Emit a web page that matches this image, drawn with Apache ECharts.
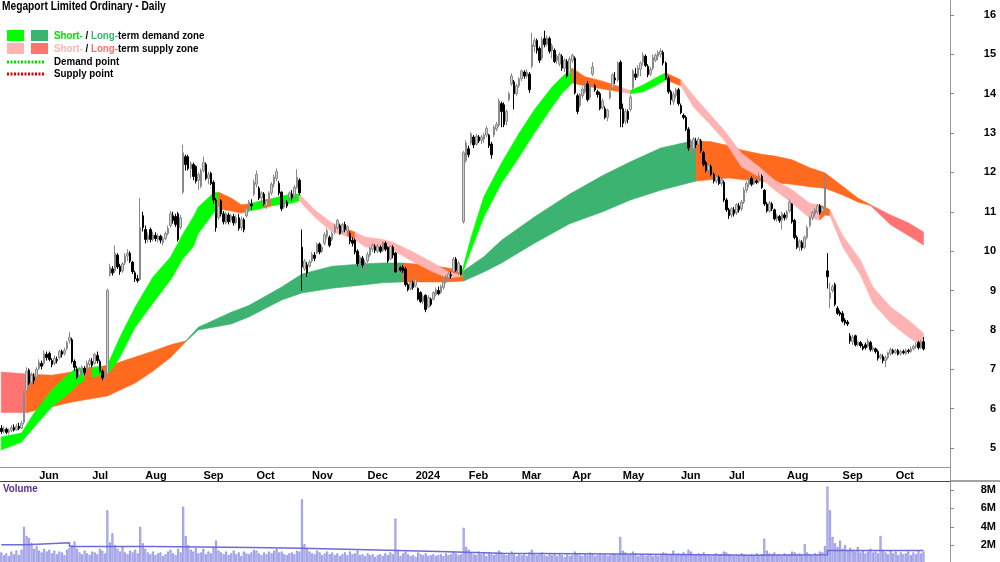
<!DOCTYPE html>
<html>
<head>
<meta charset="utf-8">
<title>Megaport Limited Ordinary - Daily</title>
<script src="https://cdn.jsdelivr.net/npm/echarts@6.0.0/dist/echarts.min.js"></script>
<style>
html, body { margin: 0; padding: 0; background: #fff; }
#main { width: 1000px; height: 562px; }
</style>
</head>
<body>
<div id="main"></div>
<script>
// daily bars: [open, close, low, high]
var ohlc = [
  [5.50,5.42,5.36,5.58],[5.42,5.48,5.38,5.55],[5.48,5.40,5.35,5.52],[5.40,5.45,5.34,5.50],[5.45,5.52,5.40,5.58],
  [5.52,5.46,5.42,5.60],[5.46,5.55,5.44,5.62],[5.55,5.50,5.45,5.64],[5.50,5.62,5.48,5.70],[5.65,6.40,5.60,6.45],
  [6.45,6.95,6.40,7.05],[6.98,6.65,6.60,7.02],[6.65,6.85,6.55,6.92],[6.80,6.72,6.62,6.90],[6.80,7.00,6.75,7.05],
  [7.02,7.18,6.98,7.25],[7.15,7.08,7.00,7.22],[7.15,7.40,7.10,7.48],[7.38,7.30,7.22,7.45],[7.40,7.25,7.20,7.45],
  [7.22,7.12,7.05,7.28],[7.15,7.28,7.10,7.35],[7.25,7.22,7.15,7.32],[7.30,7.45,7.25,7.50],[7.45,7.38,7.30,7.50],
  [7.40,7.48,7.35,7.55],[7.52,7.68,7.48,7.72],[7.72,7.82,7.65,7.95],[7.75,7.20,7.15,7.80],[7.20,7.05,6.95,7.25],
  [7.00,6.80,6.75,7.08],[6.85,6.98,6.80,7.05],[6.95,7.05,6.88,7.10],[7.02,6.92,6.85,7.08],[6.98,7.15,6.95,7.22],
  [7.12,7.22,7.05,7.28],[7.20,7.10,7.05,7.28],[7.15,7.38,7.12,7.42],[7.35,7.22,7.15,7.45],[7.20,6.95,6.90,7.25],
  [6.95,6.78,6.72,7.00],[6.80,6.85,6.72,6.92],[6.88,9.00,6.85,9.05],[9.40,9.60,9.35,9.68],[9.55,9.45,9.38,9.62],
  [9.50,9.95,9.45,10.15],[9.90,9.60,9.55,9.95],[9.62,9.48,9.40,9.68],[9.50,9.68,9.45,9.72],[9.70,9.88,9.65,9.95],
  [9.88,9.95,9.75,10.05],[9.95,9.75,9.70,10.00],[9.72,9.48,9.42,9.75],[9.45,9.30,9.22,9.50],[9.30,9.25,9.20,9.40],
  [9.28,10.60,9.25,11.35],[10.90,10.60,10.50,11.00],[10.55,10.30,10.20,10.65],[10.30,10.40,10.22,10.48],[10.55,10.30,10.22,10.60],
  [10.30,10.42,10.25,10.50],[10.40,10.32,10.25,10.48],[10.30,10.38,10.22,10.45],[10.38,10.28,10.20,10.42],[10.22,10.32,10.15,10.38],
  [10.32,10.45,10.28,10.50],[10.45,10.58,10.40,10.65],[10.65,10.95,10.60,11.02],[10.90,10.78,10.70,11.00],[10.88,10.68,10.62,10.95],
  [10.95,10.30,10.25,11.00],[10.60,10.85,10.55,10.92],[11.50,12.50,11.45,12.70],[12.40,12.20,12.05,12.45],[12.40,12.10,12.05,12.45],
  [12.10,12.22,11.85,12.28],[12.20,11.90,11.80,12.25],[12.15,11.78,11.72,12.18],[11.80,11.95,11.55,12.00],
  [11.65,12.05,11.60,12.10],[12.05,12.25,12.00,12.40],[12.20,11.85,11.80,12.25],[11.85,11.95,11.70,12.02],[11.98,11.72,11.68,12.02],
  [11.75,11.30,11.20,11.80],[11.30,10.60,10.50,11.35],[10.85,11.15,10.80,11.22],[11.28,10.95,10.88,11.32],[10.95,10.75,10.68,11.02],
  [10.72,10.95,10.68,11.00],[10.92,10.75,10.68,10.98],[10.78,10.90,10.72,10.95],[10.88,10.72,10.65,10.95],[10.72,10.85,10.68,10.92],
  [10.85,10.58,10.52,10.95],[10.60,10.80,10.52,10.88],[10.80,10.55,10.48,10.85],[10.90,11.08,10.85,11.12],[11.05,11.25,11.00,11.30],
  [11.20,11.15,11.05,11.32],[11.45,11.75,11.40,11.82],[11.70,11.95,11.62,12.05],[11.60,11.35,11.30,11.65],[11.35,11.48,11.15,11.52],
  [11.45,11.20,11.15,11.50],[11.15,11.28,11.08,11.32],[11.28,11.48,11.22,11.52],[11.48,11.70,11.42,11.75],[11.70,11.88,11.62,11.95],
  [11.85,12.02,11.78,12.10],[11.72,11.48,11.42,11.78],[11.50,11.08,11.02,11.52],[11.12,11.28,11.08,11.32],[11.25,11.15,11.10,11.30],
  [11.35,11.48,11.30,11.52],[11.45,11.35,11.28,11.55],[11.40,11.62,11.32,11.68],[11.62,11.88,11.58,12.08],[11.80,11.48,11.42,11.85],
  [10.10,9.60,9.00,10.55],[9.55,9.75,9.50,9.80],[9.65,9.45,9.35,9.72],[9.62,9.72,9.58,9.78],[9.75,9.92,9.70,9.98],
  [9.90,9.82,9.75,9.98],[9.95,10.18,9.92,10.22],[10.18,9.98,9.92,10.22],[10.00,10.10,9.95,10.15],[10.20,10.42,10.15,10.48],
  [10.38,10.52,10.32,10.58],[10.35,10.15,10.10,10.40],[10.30,10.45,10.25,10.50],[10.48,10.62,10.42,10.70],[10.60,10.78,10.55,10.82],
  [10.65,10.45,10.42,10.70],[10.50,10.68,10.45,10.72],[10.68,10.55,10.48,10.75],[10.52,10.62,10.45,10.66],[10.45,10.25,10.18,10.50],
  [10.28,10.20,10.12,10.35],[10.28,9.98,9.92,10.32],[10.00,9.68,9.62,10.05],[9.68,9.85,9.60,9.90],[9.82,9.65,9.58,9.88],
  [9.55,9.72,9.48,9.78],[9.75,9.92,9.70,9.98],[9.90,10.08,9.85,10.12],[10.05,10.15,9.98,10.20],[10.12,10.02,9.95,10.18],
  [10.00,10.12,9.95,10.18],[10.10,10.00,9.95,10.15],[10.02,10.22,9.98,10.25],[10.20,10.05,10.00,10.25],[10.10,9.75,9.70,10.12],
  [9.80,10.12,9.78,10.15],[10.10,9.90,9.82,10.15],[9.95,9.48,9.45,9.98],[9.50,9.60,9.45,9.62],[9.58,9.52,9.48,9.62],
  [9.60,9.50,9.45,9.65],[9.55,9.15,9.10,9.60],[9.15,9.02,8.98,9.20],[9.05,9.20,9.00,9.25],[9.20,9.08,9.02,9.25],
  [9.12,9.28,9.08,9.32],[9.05,8.78,8.75,9.08],[8.95,8.72,8.68,8.98],[8.72,8.85,8.65,8.90],[8.88,8.52,8.45,8.90],
  [8.58,8.82,8.55,8.88],[8.78,8.65,8.60,8.82],[8.78,8.95,8.75,8.98],[8.90,9.02,8.85,9.08],
  [9.00,8.92,8.88,9.10],[8.95,9.10,8.92,9.15],[9.08,9.22,9.02,9.28],[9.22,9.35,9.18,9.40],[9.32,9.42,9.28,9.48],
  [9.40,9.38,9.30,9.48],[9.48,9.80,9.45,9.85],[9.80,9.52,9.48,9.85],[9.45,9.70,9.40,9.75],[9.62,9.42,9.38,9.65],
  [10.75,12.50,10.70,12.55],[12.30,12.75,12.25,12.82],[12.60,12.45,12.38,12.68],[12.75,12.98,12.70,13.02],[12.90,12.70,12.62,12.95],
  [12.72,12.92,12.68,12.98],[12.90,12.80,12.75,12.95],[12.82,12.90,12.72,12.95],[12.85,12.95,12.75,13.00],[12.95,13.12,12.90,13.18],
  [12.95,12.68,12.62,12.98],[12.72,12.45,12.35,12.78],[12.95,13.15,12.90,13.20],[13.10,13.22,13.05,13.28],[13.20,13.82,13.15,13.88],
  [13.75,13.55,13.15,13.80],[13.72,13.22,13.15,13.78],[13.30,13.55,13.20,13.60],[13.85,14.00,13.80,14.05],[14.25,14.45,14.20,14.52],
  [14.30,14.00,13.60,14.35],[14.00,14.20,13.95,14.25],[14.20,14.38,14.15,14.42],[14.38,14.58,14.32,14.62],[14.55,14.45,14.38,14.60],
  [14.45,14.55,14.40,14.62],[14.50,14.10,14.02,14.55],[14.70,15.25,14.65,15.55],[15.20,15.35,15.05,15.42],[15.35,15.10,15.02,15.40],
  [15.15,14.85,14.78,15.20],[14.90,15.38,14.85,15.45],[15.40,15.25,15.18,15.60],[15.25,15.42,15.20,15.48],[15.40,15.08,15.02,15.45],
  [15.10,15.22,14.90,15.28],[15.10,14.82,14.78,15.15],[14.85,14.95,14.75,15.00],[14.75,15.00,14.70,15.05],[14.95,14.65,14.58,15.00],
  [14.65,14.85,14.55,14.90],[14.82,14.45,14.40,14.88],[14.50,14.88,14.45,14.95],[14.85,14.98,14.78,15.02],[14.90,14.02,13.98,14.95],
  [13.95,13.55,13.48,14.00],[13.70,13.98,13.65,14.02],[13.95,14.12,13.88,14.18],[14.05,14.25,14.00,14.30],[14.25,13.85,13.80,14.32],
  [13.90,14.18,13.85,14.22],[14.50,14.68,14.45,14.80],[14.20,14.10,14.05,14.25],[14.05,13.98,13.90,14.10],[14.00,13.62,13.58,14.05],
  [13.65,13.82,13.60,13.88],[13.62,13.40,13.35,13.68],[13.40,13.58,13.30,13.62],[13.90,14.05,13.85,14.10],[14.15,14.48,14.10,14.52],
  [14.40,14.35,14.25,14.55],[14.35,14.78,14.30,14.82],[14.80,13.62,13.15,14.85],[13.62,13.25,13.15,13.75],[13.30,13.55,13.22,13.62],
  [13.55,13.35,13.25,13.60],[13.60,13.92,13.55,13.98],[14.15,14.58,14.10,14.62],[14.50,14.42,14.35,14.65],[14.45,14.65,14.40,14.72],
  [14.62,14.78,14.45,14.82],[14.80,14.98,14.72,15.05],[14.95,14.72,14.68,15.00],[14.70,14.48,14.42,14.75],[14.50,14.62,14.45,14.68],
  [14.65,14.92,14.60,15.00],[14.85,14.98,14.80,15.02],[14.95,15.05,14.85,15.10],[15.00,15.08,14.92,15.15],
  [15.05,14.78,14.72,15.10],[14.78,14.40,14.35,14.82],[14.40,14.05,14.00,14.45],[14.05,13.85,13.72,14.10],[13.80,13.98,13.72,14.05],
  [13.95,14.10,13.88,14.15],[14.10,13.75,13.70,14.15],[13.70,13.52,13.48,13.75],[13.45,13.40,13.35,13.50],[13.40,13.10,13.05,13.45],
  [13.10,12.62,12.55,13.15],[12.55,12.80,12.50,12.85],[12.60,12.85,12.35,12.90],[12.80,12.70,12.62,12.88],[12.72,12.85,12.65,12.90],
  [12.80,12.55,12.50,12.85],[12.50,12.20,12.15,12.55],[12.25,12.05,12.00,12.30],[12.05,12.18,11.95,12.22],[12.15,11.95,11.90,12.20],
  [11.95,11.78,11.72,12.00],[11.78,11.90,11.72,11.95],[11.88,11.72,11.68,11.92],[11.72,11.82,11.65,11.88],[11.75,11.30,11.25,11.80],
  [11.30,11.05,11.00,11.35],[11.05,10.90,10.82,11.10],[10.92,11.08,10.85,11.12],[11.05,10.95,10.88,11.12],[10.98,11.18,10.92,11.22],
  [11.15,11.05,10.98,11.22],[11.08,11.25,11.02,11.30],[11.25,11.55,11.20,11.62],[11.55,11.72,11.48,11.78],[11.70,11.85,11.62,11.90],
  [11.85,11.70,11.65,11.90],[11.72,11.80,11.68,11.85],[11.78,11.75,11.70,11.82],[11.78,11.92,11.72,12.00],[11.90,11.62,11.58,11.95],
  [11.55,11.20,11.15,11.58],[11.20,11.02,10.98,11.25],[11.02,11.22,10.98,11.28],[11.20,11.08,11.02,11.25],[11.05,10.82,10.78,11.08],
  [10.82,10.90,10.75,10.95],[10.88,10.78,10.72,10.92],[10.80,10.95,10.55,11.00],[10.92,10.85,10.78,10.98],[10.85,11.00,10.80,11.05],
  [11.02,11.25,10.98,11.32],[11.20,10.75,10.70,11.22],[10.78,10.35,10.30,10.82],[10.35,10.10,10.05,10.40],[10.10,10.25,10.00,10.30],
  [10.22,10.08,10.02,10.28],[10.10,10.35,10.05,10.40],[10.35,10.60,10.30,10.65],[10.65,10.85,10.60,10.90],[10.85,10.98,10.78,11.02],
  [10.95,11.05,10.88,11.10],[11.00,11.15,10.95,11.20],[11.15,10.98,10.92,11.20],[11.00,11.10,10.95,11.15],[11.10,11.75,11.05,11.98],
  [9.50,9.35,9.05,9.95],[8.80,8.95,8.55,9.20],[9.00,9.10,8.95,9.15],[9.15,8.65,8.60,9.20],[8.55,8.42,8.38,8.60],
  [8.45,8.40,8.35,8.50],[8.42,8.22,8.18,8.48],[8.25,8.18,8.12,8.30],[8.20,8.15,8.10,8.25],[7.85,7.72,7.65,7.92],
  [7.70,7.82,7.62,7.88],[7.85,7.62,7.58,7.88],[7.62,7.68,7.58,7.72],[7.68,7.60,7.55,7.72],[7.58,7.52,7.48,7.65],
  [7.62,7.55,7.50,7.68],[7.58,7.72,7.55,7.78],[7.68,7.50,7.45,7.72],[7.50,7.55,7.45,7.60],
  [7.52,7.45,7.40,7.55],[7.45,7.28,7.22,7.50],[7.30,7.35,7.25,7.40],[7.32,7.22,7.15,7.38],[7.22,7.30,7.05,7.35],
  [7.30,7.42,7.25,7.45],[7.40,7.50,7.35,7.55],[7.48,7.42,7.38,7.52],[7.42,7.48,7.38,7.52],[7.48,7.38,7.35,7.52],
  [7.40,7.45,7.35,7.50],[7.45,7.42,7.38,7.50],[7.40,7.48,7.36,7.52],[7.48,7.45,7.40,7.52],[7.45,7.52,7.42,7.58],
  [7.52,7.58,7.48,7.62],[7.58,7.62,7.52,7.68],[7.68,7.55,7.50,7.72],[7.55,7.68,7.52,7.75],[7.70,7.52,7.48,7.82]
];

// volume in millions
var volume = [
  1.2,0.9,1.1,0.8,1.3,1.0,1.4,0.9,1.5,4.0, 3.0,2.8,2.2,1.6,1.9,1.4,1.2,1.6,1.3,1.5,
  1.1,1.4,1.0,1.3,1.2,0.9,1.5,1.7,2.0,2.4, 1.6,1.2,1.0,1.4,1.1,0.9,1.3,1.2,1.0,1.6,
  1.4,1.1,5.8,2.3,3.3,2.0,1.6,1.3,1.8,1.2, 1.0,1.4,1.2,1.5,1.1,4.0,2.2,1.6,1.2,1.0,
  1.3,0.9,1.1,1.2,0.8,1.0,1.3,1.5,1.1,0.9, 1.6,1.2,6.2,3.0,2.0,1.5,1.3,1.7,1.1,
  1.2,1.6,1.0,1.3,1.1,1.8,2.5,1.4,1.2,1.0, 1.3,0.9,1.1,1.4,1.0,1.2,0.8,1.3,1.1,1.0,
  1.2,1.5,1.4,1.1,0.9,1.2,1.0,1.3,1.1,1.4, 1.6,1.2,1.3,1.0,0.9,1.1,1.2,1.0,1.4,1.3,
  7.0,2.1,1.6,1.3,1.1,1.0,1.4,1.2,0.9,1.1, 1.3,1.0,1.2,0.9,1.1,0.8,1.0,1.2,0.9,1.3,
  1.0,1.1,1.4,0.9,1.0,0.8,1.1,0.9,1.0,0.7, 0.9,1.0,0.8,1.1,0.9,1.2,1.0,4.9,1.5,0.8,
  1.1,1.3,1.0,0.8,0.9,0.7,1.2,1.0,0.9,1.1, 0.8,0.9,1.0,0.8,0.9,1.0,0.8,1.1,0.9,
  1.0,1.3,1.1,0.9,1.0,3.9,1.8,1.5,1.2,1.0, 0.9,1.3,1.0,1.1,0.8,1.2,1.0,0.9,1.1,1.4,
  1.2,1.0,0.9,1.1,1.3,1.0,0.8,1.1,0.9,1.0, 0.8,1.2,1.5,1.1,0.9,1.0,1.2,0.9,0.8,1.0,
  0.9,1.1,0.8,1.0,0.9,0.7,1.0,0.8,0.9,1.3, 1.1,0.9,0.8,1.0,0.9,1.2,1.0,0.8,0.9,1.1,
  0.9,1.0,0.8,0.9,1.1,1.0,0.9,2.9,1.4,1.2, 0.9,1.0,1.3,1.1,0.8,0.9,1.0,0.8,0.9,1.0,
  0.8,1.0,0.8,0.9,1.2,1.1,1.0,0.9,1.4, 1.0,1.1,0.9,1.2,1.0,1.5,1.3,1.0,0.9,1.1,
  1.0,1.2,0.9,1.0,0.8,0.9,1.1,0.9,1.0,1.3, 1.2,1.0,0.9,0.8,1.0,0.9,1.1,1.0,0.9,0.8,
  1.0,0.9,1.1,0.9,1.0,2.7,1.4,1.1,1.0,1.2, 0.9,1.0,0.8,1.1,0.9,1.0,1.3,1.2,1.0,1.1,
  0.9,2.1,1.2,1.0,0.9,1.1,1.0,1.3,1.2,1.9, 8.4,5.8,2.9,2.2,1.8,2.5,1.6,2.0,1.4,1.7,
  1.5,1.3,1.8,1.2,1.4,1.1,1.3,1.6,1.2, 1.3,1.1,3.0,1.5,1.2,1.0,1.4,1.1,1.3,0.9,
  1.2,1.0,1.1,1.3,0.9,1.2,1.0,1.4,1.1,1.3
];

// volume average (bar index, millions), drawn as steps
var volumeAvg = [
  [0,2.05],[10,2.25],[27,1.85],[60,1.75],[99,1.65],[119,1.45],[149,1.3],[173,1.1],
  [198,1.0],[257,0.9],[297,0.95],[327,1.4],[365,1.4]
];

// zones: [bar index, upper, lower]
var longZone = [
  [0,6.93,5.90],[10,6.88,5.90],[20,6.85,6.05],[28,6.93,6.17],[40,7.06,6.30],[42,7.08,6.32],
  [53,7.31,6.65],[60,7.46,6.95],[67,7.62,7.30],[73,7.72,7.70],[78,8.07,8.00],[91,8.45,8.15],
  [98,8.62,8.33],[111,9.09,8.76],[119,9.42,8.94],[131,9.62,9.06],[144,9.68,9.15],[151,9.70,9.20],
  [159,9.70,9.22],[169,9.65,9.22],[176,9.58,9.22],[183,9.50,9.24],[191,9.86,9.47],[198,10.28,9.70],
  [211,10.87,10.20],[225,11.45,10.70],[238,11.92,11.00],[249,12.27,11.30],[261,12.62,11.55],
  [272,12.78,11.73],[275,12.80,11.78],[281,12.78,11.82],[288,12.68,11.86],[293,12.57,11.82],
  [301,12.46,11.78],[306,12.42,11.74],[313,12.32,11.70],[320,12.12,11.64],[326,11.99,11.60],
  [333,11.65,11.43],[339,11.35,11.25],[344,11.18,11.16],[352,10.92,10.67],[359,10.72,10.40],
  [365,10.49,10.16]
];
var longState = [
  [0,'supplyLong'],[10,'mixed'],[73,'demandLong'],[159,'mixed'],[183,'demandLong'],[275,'mixed'],[344,'supplyLong']
];

var shortZone = [
  [0,5.28,4.95],[8,5.38,5.15],[13,5.89,5.53],[20,6.47,6.04],[27,6.90,6.40],[30,7.03,6.60],
  [33,7.03,6.72],[36,7.05,6.80],[40,7.08,6.86],[42,7.10,6.90],[43,7.24,6.93],[47,7.82,7.31],
  [53,8.58,8.07],[60,9.34,8.68],[67,9.85,9.27],[72,10.45,9.82],[76,10.87,10.11],[78,11.12,10.45],
  [84,11.48,10.97],[86,11.50,11.08],[91,11.35,11.02],[95,11.18,10.97],[98,11.20,11.02],
  [104,11.30,11.10],[107,11.33,11.15],[111,11.40,11.20],[115,11.45,11.22],[118,11.45,11.28],
  [124,11.05,10.87],[131,10.71,10.49],[137,10.56,10.38],[140,10.48,10.30],[144,10.36,10.11],
  [151,10.30,10.05],[155,10.23,10.03],[163,9.98,9.73],[171,9.70,9.47],[177,9.47,9.32],
  [182,9.40,9.36],[186,10.36,10.03],[191,11.38,10.87],[198,12.24,11.73],[205,13.00,12.39],
  [211,13.59,13.00],[218,14.17,13.66],[222,14.43,14.02],[226,14.65,14.27],[231,14.43,14.20],
  [238,14.32,14.12],[245,14.17,14.05],[249,14.08,14.00],[254,14.22,14.05],[259,14.40,14.20],
  [263,14.53,14.35],[269,14.35,14.20],[274,13.95,13.66],[280,13.51,13.26],[286,13.08,12.83],
  [293,12.49,12.14],[300,12.14,11.89],[306,11.81,11.56],[313,11.56,11.22],[320,11.22,10.84],
  [324,11.17,10.79],[326,11.12,10.92],[328,11.05,10.90],[333,10.40,10.11],[340,9.78,9.40],
  [345,9.09,8.68],[352,8.58,8.18],[359,8.25,7.82],[365,7.92,7.57]
];
var shortState = [
  [0,'demandShort'],[33,'mixed'],[36,'demandShort'],[40,'mixed'],[42,'demandShort'],[86,'mixed'],
  [98,'demandShort'],[104,'mixed'],[107,'demandShort'],[118,'supplyShort'],[137,'mixed'],
  [140,'supplyShort'],[182,'demandShort'],[226,'mixed'],[245,'supplyShort'],[249,'demandShort'],
  [263,'mixed'],[269,'supplyShort'],[324,'mixed'],[328,'supplyShort']
];

var zoneColors = {
  demandShort: '#00ff00',
  demandLong: '#3cb371',
  supplyShort: '#ffb3b3',
  supplyLong: '#ff7373',
  mixed: '#ff6a1f'
};

var monthNames = ['Jan','Feb','Mar','Apr','May','Jun','Jul','Aug','Sep','Oct','Nov','Dec'];
var holidays = ['2023-06-12','2023-12-25','2023-12-26','2024-01-01','2024-01-26',
                '2024-03-29','2024-04-01','2024-04-25','2024-06-10'];

// trading days from 11 May 2023, with some empty room on the right
var dates = [];
var d = new Date(Date.UTC(2023, 4, 11));
while (dates.length < 376) {
  var s = d.toISOString().slice(0, 10);
  var wd = d.getUTCDay();
  if (wd !== 0 && wd !== 6 && holidays.indexOf(s) < 0) dates.push(s);
  d.setUTCDate(d.getUTCDate() + 1);
}
function monthStart(i) {
  return i > 0 && dates[i].slice(5, 7) !== dates[i - 1].slice(5, 7);
}

var fontAxis = 'Liberation Sans';
var squeeze = 0.85; // the legend text in the picture is narrower than Arial

function zoneSeries(pts, states, z) {
  return {
    type: 'custom',
    xAxisIndex: 0,
    yAxisIndex: 0,
    z: z,
    silent: true,
    encode: { x: 0, y: 1 },
    data: states.map(function (st) {
      var p = pts.filter(function (q) { return q[0] === st[0]; })[0];
      return [p[0], p[1]];
    }),
    renderItem: function (params, api) {
      var k = params.dataIndex;
      var from = states[k][0];
      var to = k + 1 < states.length ? states[k + 1][0] : Infinity;
      var top = [], bottom = [];
      pts.forEach(function (p) {
        if (p[0] >= from && p[0] <= to) {
          top.push(api.coord([p[0], p[1]]));
          bottom.unshift(api.coord([p[0], p[2]]));
        }
      });
      var c = zoneColors[states[k][1]];
      return {
        type: 'polygon',
        shape: { points: top.concat(bottom) },
        style: { fill: c, stroke: c, lineWidth: 0.6 }
      };
    }
  };
}

function label(x, y, text, size, color, rich) {
  return {
    type: 'text', x: x, y: y, scaleX: squeeze,
    style: {
      text: text, font: 'bold ' + size + 'px ' + fontAxis, fill: color,
      verticalAlign: 'middle', rich: rich
    }
  };
}

var myChart = echarts.init(document.getElementById('main'), null, { renderer: 'canvas' });

var option = {
  animation: false,
  backgroundColor: '#fff',
  graphic: [
    label(2, 7, 'Megaport Limited Ordinary - Daily', 12, '#000'),
    { type: 'rect', shape: { x: 7, y: 30, width: 17, height: 11 }, style: { fill: zoneColors.demandShort } },
    { type: 'rect', shape: { x: 31, y: 30, width: 17, height: 11 }, style: { fill: zoneColors.demandLong } },
    { type: 'rect', shape: { x: 7, y: 43, width: 17, height: 11 }, style: { fill: zoneColors.supplyShort } },
    { type: 'rect', shape: { x: 31, y: 43, width: 17, height: 11 }, style: { fill: zoneColors.supplyLong } },
    { type: 'line', shape: { x1: 7, y1: 62, x2: 44, y2: 62 }, style: { stroke: '#00e000', lineWidth: 3, lineDash: [2, 1.5] } },
    { type: 'line', shape: { x1: 7, y1: 74, x2: 44, y2: 74 }, style: { stroke: '#e00000', lineWidth: 3, lineDash: [2, 1.5] } },
    label(54, 36, '{a|Short-} / {b|Long-}term demand zone', 11.5, '#000',
      { a: { fill: '#00e000' }, b: { fill: '#3cb371' } }),
    label(54, 49, '{a|Short-} / {b|Long-}term supply zone', 11.5, '#000',
      { a: { fill: '#ffb3b3' }, b: { fill: '#ff7070' } }),
    label(54, 62, 'Demand point', 11.5, '#000'),
    label(54, 74, 'Supply point', 11.5, '#000'),
    label(3, 489, 'Volume', 11.5, '#5a2a9a'),
    { type: 'line', shape: { x1: 950, y1: 481, x2: 1000, y2: 481 }, style: { stroke: '#444', lineWidth: 1 } }
  ],
  grid: [
    { left: 0, right: 50, top: -24.36, height: 511.73, outerBoundsMode: 'none' },
    { left: 0, right: 50, top: 481, height: 82.4, outerBoundsMode: 'none' }
  ],
  xAxis: [
    {
      type: 'category', gridIndex: 0, data: dates, offset: -20.4,
      axisLine: { onZero: false, lineStyle: { color: '#999' } },
      axisTick: { interval: monthStart, length: 4, lineStyle: { color: '#888' } },
      axisLabel: {
        interval: monthStart, align: 'left', margin: 3,
        fontSize: 11, fontWeight: 'bold', color: '#000', fontFamily: fontAxis,
        formatter: function (v) {
          var m = +v.slice(5, 7);
          return m === 1 ? v.slice(0, 4) : monthNames[m - 1];
        }
      },
      splitLine: { show: false }
    },
    {
      type: 'category', gridIndex: 1, data: dates, position: 'top',
      axisLine: { onZero: false, lineStyle: { color: '#444' } },
      axisTick: { show: false }, axisLabel: { show: false }, splitLine: { show: false }
    }
  ],
  yAxis: [
    {
      type: 'value', gridIndex: 0, position: 'right', min: 4, max: 17, interval: 1,
      axisLine: { show: true, lineStyle: { color: '#999' } },
      axisTick: { show: true, length: 4, lineStyle: { color: '#888' } },
      axisLabel: {
        showMinLabel: false, showMaxLabel: false, align: 'right', margin: 46,
        fontSize: 11, fontWeight: 'bold', color: '#000', fontFamily: fontAxis
      },
      splitLine: { show: false }
    },
    {
      type: 'value', gridIndex: 1, position: 'right', min: 0, max: 9, interval: 2,
      axisLine: { show: true, lineStyle: { color: '#999' } },
      axisTick: { show: true, length: 4, lineStyle: { color: '#888' } },
      axisLabel: {
        showMinLabel: false, showMaxLabel: false, align: 'right', margin: 46,
        fontSize: 11, fontWeight: 'bold', color: '#000', fontFamily: fontAxis,
        formatter: '{value}M'
      },
      splitLine: { show: false }
    }
  ],
  series: [
    zoneSeries(longZone, longState, 1),
    zoneSeries(shortZone, shortState, 2),
    {
      name: 'Price',
      type: 'candlestick',
      xAxisIndex: 0, yAxisIndex: 0, z: 3,
      barWidth: 2,
      data: ohlc,
      itemStyle: {
        color: '#d0d0d0', color0: '#000',
        borderColor: '#8a8a8a', borderColor0: '#000', borderWidth: 1
      }
    },
    {
      name: 'Volume',
      type: 'bar',
      xAxisIndex: 1, yAxisIndex: 1,
      barWidth: 2,
      data: volume,
      itemStyle: { color: '#d4d4f6', borderColor: '#7c7cdc', borderWidth: 0.7 }
    },
    {
      name: 'Volume average',
      type: 'line',
      xAxisIndex: 1, yAxisIndex: 1,
      step: 'end', symbol: 'none',
      data: volumeAvg,
      lineStyle: { color: '#6b6bd6', width: 1.5 }
    }
  ]
};

myChart.setOption(option);
</script>
</body>
</html>
